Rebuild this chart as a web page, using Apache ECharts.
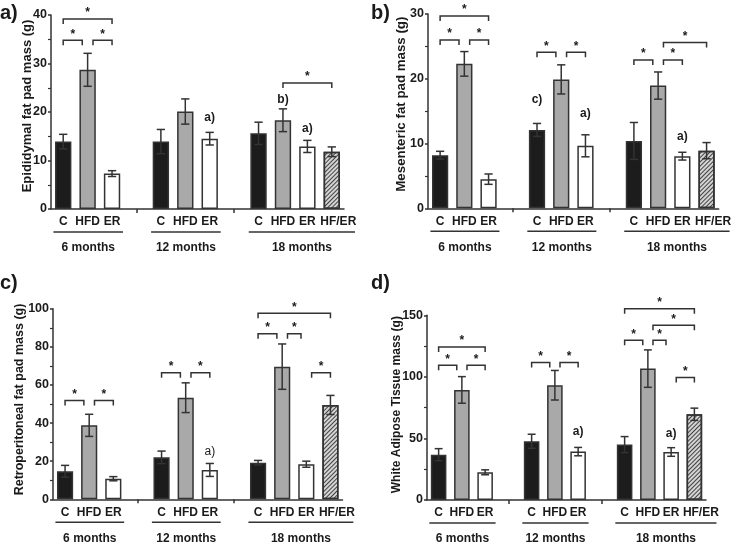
<!DOCTYPE html>
<html><head><meta charset="utf-8">
<script src="https://cdn.jsdelivr.net/npm/echarts@6/dist/echarts.min.js"></script>
<style>html,body{margin:0;padding:0;background:#fff}#c{width:734px;height:542px}</style>
</head><body><div id="c"></div>
<script>
// ---------- DATA ----------
const categories = ['C','HFD','ER','','C','HFD','ER','','C','HFD','ER','HF/ER'];
const groupLabels = ['6 months','12 months','18 months'];
const groupSpans = [[0,2],[4,6],[8,11]];

// a) Epididymal
const aMean = [13.9, 28.7, 7.3, null, 13.9, 20.1, 14.5, null, 15.6, 18.3, 12.9, 11.8];
const aSem  = [1.5, 3.4, 0.6, null, 2.5, 2.6, 1.3, null, 2.3, 2.35, 1.25, 1.0];
const aBrackets = [[0,2,39.2],[0,1,34.8],[1,2,34.8],[9,11,26.0]];
const aNotes = [[6,18.8,'a)'],[9,22.5,'b)'],[10,16.5,'a)']];

// b) Mesenteric
const bMean = [8.2, 22.3, 4.5, null, 12.1, 19.9, 9.65, null, 10.4, 18.95, 8.05, 8.9];
const bSem  = [0.6, 1.9, 0.8, null, 1.0, 2.25, 1.7, null, 2.85, 2.1, 0.6, 1.25];
const bBrackets = [[0,2,29.7],[0,1,26.0],[1,2,26.0],[4,5,24.1],[5,6,24.1],[8,9,22.9],[9,10,22.9],[9,11,25.6]];
const bNotes = [[4,16.7,'c)'],[6,14.6,'a)'],[10,11.0,'a)']];

// c) Retroperitoneal
const cMean = [14.7, 38.8, 10.8, null, 22.0, 53.3, 15.4, null, 19.2, 69.6, 18.4, 49.5];
const cSem  = [3.1, 5.8, 1.1, null, 3.3, 7.8, 3.4, null, 1.2, 11.9, 1.6, 5.0];
const cBrackets = [[0,1,51.9],[1,2,51.9],[4,5,66.4],[5,6,66.4],[8,11,97.6],[8,9,86.9],[9,10,86.9],[10,11,66.4]];
const cNotes = [[6,24.8,'a)']];

// d) White adipose tissue
const dMean = [36.8, 89.4, 22.5, null, 47.7, 93.2, 39.3, null, 45.0, 106.7, 39.0, 69.6];
const dSem  = [4.9, 10.8, 2.0, null, 5.7, 12.0, 3.4, null, 6.5, 15.2, 3.5, 5.0];
const dBrackets = [[0,2,124.3],[0,1,109.4],[1,2,109.4],[4,5,111.6],[5,6,111.6],[8,11,155.4],[9,11,141.9],[8,9,129.7],[9,10,129.7],[10,11,99.4]];
const dNotes = [[6,55.5,'a)'],[10,54.2,'a)']];

// ---------- STYLE ----------
const FONT = '"Liberation Sans", Arial, sans-serif';
const INK = '#1a1a1a';
const LINE = '#333333';
const fills = {
  'C':     {color:'#1c1c1c'},
  'HFD':   {color:'#a9a9a9'},
  'ER':    {color:'#ffffff'},
  'HF/ER': {color:'#d4d4d4', decal:{symbol:'rect', symbolSize:1, color:'rgba(40,40,40,0.85)', dashArrayX:[1,0], dashArrayY:[1,2], rotation:-Math.PI/4}}
};

const panels = [
  {letter:'a)', mean:aMean, sem:aSem, brackets:aBrackets, notes:aNotes, max:40, interval:10,
   name:'Epididymal fat pad mass (g)', grid:{left:51, top:15, width:293, height:194}, nameGap:17, nameSize:13, nameShift:12, noteWeight:'bold', lx:0, ly:3},
  {letter:'b)', mean:bMean, sem:bSem, brackets:bBrackets, notes:bNotes, max:30, interval:10,
   name:'Mesenteric fat pad mass (g)', grid:{left:428, top:14, width:292.5, height:194.3}, nameGap:20, nameSize:13.3, nameShift:14, noteWeight:'bold', lx:371, ly:3},
  {letter:'c)', mean:cMean, sem:cSem, brackets:cBrackets, notes:cNotes, max:100, interval:20,
   name:'Retroperitoneal fat pad mass (g)', grid:{left:53, top:308.7, width:289.5, height:190.6}, nameGap:27, nameSize:12.5, nameShift:9, noteWeight:'normal', lx:0, ly:273},
  {letter:'d)', mean:dMean, sem:dSem, brackets:dBrackets, notes:dNotes, max:150, interval:50,
   name:'White Adipose Tissue mass (g)', grid:{left:427, top:315.3, width:279, height:184.7}, nameGap:24, nameSize:12, nameShift:6, noteWeight:'bold', lx:371, ly:273}
];

function errRender(mean, sem){
  return function(params, api){
    const i = api.value(0);
    const m = mean[i], s = sem[i];
    const slot = api.size([1,0])[0];
    const hw = slot*0.17;
    const t = api.coord([i, m+s]), b = api.coord([i, m-s]);
    const st = {stroke:LINE, lineWidth:1.5};
    return {type:'group', children:[
      {type:'line', shape:{x1:t[0], y1:t[1], x2:b[0], y2:b[1]}, style:st},
      {type:'line', shape:{x1:t[0]-hw, y1:t[1], x2:t[0]+hw, y2:t[1]}, style:st},
      {type:'line', shape:{x1:b[0]-hw, y1:b[1], x2:b[0]+hw, y2:b[1]}, style:st}
    ]};
  };
}

function bracketRender(list){
  return function(params, api){
    const br = list[params.dataIndex];
    const slot = api.size([1,0])[0];
    const shiftStart = list.some(o => o !== br && o[1] === br[0]);
    const shiftEnd = list.some(o => o !== br && o[0] === br[1]);
    let x1 = api.coord([br[0], br[2]])[0];
    let x2 = api.coord([br[1], br[2]])[0];
    const y = api.coord([br[0], br[2]])[1];
    if (shiftStart) x1 += slot*0.22;
    if (shiftEnd) x2 -= slot*0.22;
    return {type:'group', children:[
      {type:'polyline', shape:{points:[[x1,y+5],[x1,y],[x2,y],[x2,y+5]]}, style:{stroke:LINE, lineWidth:1.5, fill:null}},
      {type:'text', x:(x1+x2)/2, y:y-6, style:{text:'*', font:'bold 12px '+FONT, fill:INK, align:'center', verticalAlign:'middle'}}
    ]};
  };
}

function noteRender(list, weight){
  return function(params, api){
    const n = list[params.dataIndex];
    const p = api.coord([n[0], n[1]]);
    return {type:'text', x:p[0], y:p[1], style:{text:n[2], font:weight+' 12px '+FONT, fill:INK, align:'center', verticalAlign:'middle'}};
  };
}

function groupRender(params, api){
  const sp = groupSpans[params.dataIndex];
  const slot = api.size([1,0])[0];
  const y0 = api.coord([sp[0], 0])[1];
  const extra = (sp[1]-sp[0]-2)*0.5*slot;
  const x1 = api.coord([sp[0], 0])[0] - 0.4*slot;
  const x2 = api.coord([sp[1], 0])[0] + 0.45*slot + extra;
  return {type:'group', children:[
    {type:'line', shape:{x1:x1, y1:y0+23, x2:x2, y2:y0+23}, style:{stroke:LINE, lineWidth:1.5}},
    {type:'text', x:(x1+x2)/2, y:y0+39, style:{text:groupLabels[params.dataIndex], font:'bold 12px '+FONT, fill:INK, align:'center', verticalAlign:'middle'}}
  ]};
}

const grids = [], xAxes = [], yAxes = [], series = [], graphics = [];
panels.forEach((p, k) => {
  grids.push(Object.assign({containLabel:false}, p.grid));
  xAxes.push({
    type:'category', gridIndex:k, data:categories,
    axisLine:{show:true, lineStyle:{color:LINE, width:1.5}},
    axisTick:{show:true, alignWithLabel:true, interval:(i)=> i===3 || i===7, length:4, lineStyle:{color:LINE, width:1.5}},
    axisLabel:{interval:0, margin:7, color:INK, fontWeight:'bold', fontSize:12, fontFamily:FONT,
      formatter:(v)=> v==='HF/ER' ? '{s|'+v+'}' : v,
      rich:{s:{padding:[0,0,0,13], color:INK, fontWeight:'bold', fontSize:12, fontFamily:FONT}}},
    splitLine:{show:false}
  });
  yAxes.push({
    type:'value', gridIndex:k, min:0, max:p.max, interval:p.interval,
    name:p.name, nameLocation:'middle', nameGap:p.nameGap, nameMoveOverlap:false,
    nameTextStyle:{color:INK, fontWeight:'bold', fontSize:p.nameSize, fontFamily:FONT, padding:[0,0,0,p.nameShift]},
    axisLine:{show:true, lineStyle:{color:LINE, width:1.5}},
    axisTick:{show:true, length:3, lineStyle:{color:LINE, width:1.5}},
    minorTick:{show:true, splitNumber:2, length:3, lineStyle:{color:LINE, width:1.2}},
    axisLabel:{margin:4, color:INK, fontWeight:'bold', fontSize:12.5, fontFamily:FONT},
    splitLine:{show:false}
  });
  series.push({
    type:'bar', xAxisIndex:k, yAxisIndex:k, barWidth:'67%', z:2,
    data:p.mean.map((v,i)=> v==null ? '-' : {value:v, itemStyle:Object.assign({borderColor:LINE, borderWidth:1.5}, fills[categories[i]])}),
    animation:false
  });
  series.push({
    type:'custom', xAxisIndex:k, yAxisIndex:k, z:4, clip:false, animation:false,
    renderItem:errRender(p.mean, p.sem),
    encode:{x:0, y:1},
    data:p.mean.map((v,i)=> v==null ? null : [i, v]).filter(Boolean)
  });
  series.push({
    type:'custom', xAxisIndex:k, yAxisIndex:k, z:4, clip:false, animation:false,
    renderItem:bracketRender(p.brackets), encode:{x:0, y:2}, data:p.brackets
  });
  series.push({
    type:'custom', xAxisIndex:k, yAxisIndex:k, z:4, clip:false, animation:false,
    renderItem:noteRender(p.notes, p.noteWeight), encode:{x:0, y:1}, data:p.notes.map(n=>[n[0], n[1]])
  });
  series.push({
    type:'custom', xAxisIndex:k, yAxisIndex:k, z:4, clip:false, animation:false,
    renderItem:groupRender, encode:{x:0, y:1}, data:groupSpans.map(s=>[s[0], 0])
  });
  graphics.push({type:'text', left:p.lx, top:p.ly, style:{text:p.letter, font:'bold 20px '+FONT, fill:INK}});
});

const chart = echarts.init(document.getElementById('c'), null, {renderer:'canvas'});
chart.setOption({
  animation:false,
  backgroundColor:'#ffffff',
  grid:grids, xAxis:xAxes, yAxis:yAxes, series:series, graphic:graphics,
  tooltip:{show:false}
});
</script>
</body></html>
